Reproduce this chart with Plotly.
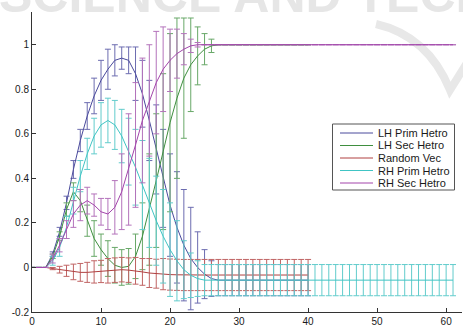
import plotly.graph_objects as go

# ---------------- data ----------------
x_short = list(range(0, 41))   # LH Prim, LH Sec, Random Vec : x = 0..40
x_long = list(range(0, 62))    # RH Prim, RH Sec : x = 0..61

series_names = ["LH Prim Hetro", "LH Sec Hetro", "Random Vec", "RH Prim Hetro", "RH Sec Hetro"]

lh_prim = [0, 0, 0, 0.06, 0.16, 0.29, 0.44, 0.57, 0.68, 0.77, 0.84, 0.89, 0.93, 0.94, 0.93,
           0.87, 0.78, 0.66, 0.53, 0.40, 0.28, 0.18, 0.10, 0.04, 0.0, -0.03, -0.05,
           -0.057, -0.057, -0.057, -0.057, -0.057, -0.057, -0.057, -0.057, -0.057, -0.057,
           -0.057, -0.057, -0.057, -0.057]
lh_prim_err = [0, 0, 0, 0.01, 0.02, 0.03, 0.04, 0.05, 0.06, 0.08, 0.09, 0.09, 0.07, 0.05, 0.06,
               0.12, 0.15, 0.18, 0.20, 0.22, 0.23, 0.25, 0.25, 0.23, 0.16, 0.11, 0.08,
               0.07, 0.07, 0.07, 0.07, 0.07, 0.07, 0.07, 0.07, 0.07, 0.07, 0.07, 0.07, 0.07, 0.07]

lh_sec = [0, 0, 0, 0.05, 0.14, 0.26, 0.34, 0.30, 0.21, 0.13, 0.08, 0.04, 0.01, 0.0, 0.005,
          0.05, 0.14, 0.26, 0.39, 0.52, 0.65, 0.76, 0.85, 0.91, 0.95, 0.98, 0.995,
          1.0, 1.0, 1.0, 1.0, 1.0, 1.0, 1.0, 1.0, 1.0, 1.0, 1.0, 1.0, 1.0, 1.0]
lh_sec_err = [0, 0, 0, 0.01, 0.02, 0.03, 0.04, 0.05, 0.07, 0.08, 0.07, 0.08, 0.08, 0.08, 0.08,
              0.10, 0.15, 0.25, 0.30, 0.35, 0.40, 0.36, 0.27, 0.21, 0.13, 0.07, 0.03,
              0, 0, 0, 0, 0, 0, 0, 0, 0, 0, 0, 0, 0, 0]

random_vec = [0, 0, 0, -0.005, -0.01, -0.015, -0.02, -0.022, -0.022, -0.02, -0.018, -0.015,
              -0.012, -0.01, -0.012, -0.015, -0.02, -0.025, -0.028, -0.03, -0.032, -0.033,
              -0.034, -0.034, -0.034, -0.034, -0.034, -0.034, -0.034, -0.034, -0.034, -0.034,
              -0.034, -0.034, -0.034, -0.034, -0.034, -0.034, -0.034, -0.034, -0.034]
random_vec_err = [0, 0, 0, 0.005, 0.015, 0.025, 0.035, 0.04, 0.045, 0.05, 0.05, 0.055, 0.055,
                  0.055, 0.055, 0.06, 0.06, 0.065, 0.065, 0.07, 0.07, 0.07, 0.07, 0.07, 0.07,
                  0.07, 0.07, 0.07, 0.07, 0.07, 0.07, 0.07, 0.07, 0.07, 0.07, 0.07, 0.07, 0.07,
                  0.07, 0.07, 0.07]

rh_prim = [0, 0, 0, 0.03, 0.09, 0.18, 0.30, 0.41, 0.51, 0.59, 0.64, 0.66, 0.64, 0.59, 0.52,
           0.45, 0.37, 0.29, 0.21, 0.14, 0.08, 0.03, -0.01, -0.035, -0.05,
           -0.057, -0.057, -0.057, -0.057, -0.057, -0.057, -0.057, -0.057, -0.057, -0.057,
           -0.057, -0.057, -0.057, -0.057, -0.057, -0.057, -0.057, -0.057, -0.057, -0.057,
           -0.057, -0.057, -0.057, -0.057, -0.057, -0.057, -0.057, -0.057, -0.057, -0.057,
           -0.057, -0.057, -0.057, -0.057, -0.057, -0.057, -0.057]
rh_prim_err = [0, 0, 0, 0.02, 0.04, 0.05, 0.06, 0.07, 0.07, 0.08, 0.10, 0.10, 0.11, 0.12, 0.15,
               0.17, 0.20, 0.20, 0.20, 0.21, 0.21, 0.18, 0.13, 0.10, 0.08,
               0.07, 0.07, 0.07, 0.07, 0.07, 0.07, 0.07, 0.07, 0.07, 0.07, 0.07, 0.07, 0.07,
               0.07, 0.07, 0.07, 0.07, 0.07, 0.07, 0.07, 0.07, 0.07, 0.07, 0.07, 0.07, 0.07,
               0.07, 0.07, 0.07, 0.07, 0.07, 0.07, 0.07, 0.07, 0.07, 0.07, 0.07]

rh_sec = [0, 0, 0, 0.04, 0.10, 0.17, 0.24, 0.28, 0.30, 0.28, 0.25, 0.24, 0.27, 0.34, 0.44,
          0.55, 0.66, 0.75, 0.83, 0.89, 0.93, 0.96, 0.98, 0.995, 1.0,
          1.0, 1.0, 1.0, 1.0, 1.0, 1.0, 1.0, 1.0, 1.0, 1.0, 1.0, 1.0, 1.0, 1.0, 1.0, 1.0,
          1.0, 1.0, 1.0, 1.0, 1.0, 1.0, 1.0, 1.0, 1.0, 1.0, 1.0, 1.0, 1.0, 1.0, 1.0, 1.0,
          1.0, 1.0, 1.0, 1.0, 1.0]
rh_sec_err = [0, 0, 0, 0.02, 0.03, 0.04, 0.06, 0.07, 0.06, 0.05, 0.06, 0.07, 0.12, 0.17, 0.25,
              0.28, 0.28, 0.25, 0.23, 0.19, 0.14, 0.11, 0.07, 0.03, 0.01,
              0, 0, 0, 0, 0, 0, 0, 0, 0, 0, 0, 0, 0, 0, 0, 0, 0, 0, 0, 0, 0, 0, 0, 0, 0, 0,
              0, 0, 0, 0, 0, 0, 0, 0, 0, 0, 0]

x_ticks = [0, 10, 20, 30, 40, 50, 60]
y_ticks = [-0.2, 0, 0.2, 0.4, 0.6, 0.8, 1]
y_tick_text = ["-0.2", "0", "0.2", "0.4", "0.6", "0.8", "1"]

# ---------------- styling ----------------
line_colors = ["#4a4a9c", "#3f8f3f", "#b04040", "#40c4c4", "#a345ab"]
err_colors = ["#6c6cb0", "#68a868", "#c06464", "#62cccc", "#b473bb"]

series = [
    (x_short, lh_prim, lh_prim_err),
    (x_short, lh_sec, lh_sec_err),
    (x_short, random_vec, random_vec_err),
    (x_long, rh_prim, rh_prim_err),
    (x_long, rh_sec, rh_sec_err),
]

fig = go.Figure()
for i, (xs, ys, es) in enumerate(series):
    fig.add_trace(go.Scatter(
        x=xs, y=ys, mode="lines", name=series_names[i],
        line=dict(color=line_colors[i], width=1),
        error_y=dict(type="data", array=es, visible=True,
                     color=err_colors[i], thickness=1, width=3),
        showlegend=False,
    ))

# plot area geometry (pixels)
L, R, T, B = 32, 462, 12, 312
W, H = 463, 327


def px(xp):
    return (xp - L) / (R - L)


def py(yp):
    return (B - yp) / (B - T)


shapes = []
annotations = []

# watermark (light gray text cut at top, as in the source image) and swoosh
annotations.append(dict(
    text="SCIENCE AND TECHNOLOGY", xref="paper", yref="paper",
    x=px(-3), y=py(25), xanchor="left", yanchor="bottom", showarrow=False,
    font=dict(family="Liberation Sans, Arial", size=50, color="#e6e6e6", weight="bold"),
))
shapes.append(dict(
    type="path", xref="paper", yref="paper", layer="below",
    path=f"M {px(376)},{py(24)} Q {px(428)},{py(36)} {px(450)},{py(90)} L {px(470)},{py(58)}",
    line=dict(color="#e8e8e8", width=8),
))

# custom legend (box, sample lines, labels)
box_l, box_r, box_t, box_b = 332.5, 454.5, 124, 190
shapes.append(dict(type="rect", xref="paper", yref="paper",
                   x0=px(box_l), x1=px(box_r), y0=py(box_b), y1=py(box_t),
                   line=dict(color="#555555", width=1), fillcolor="white"))
entry_y = [133, 145.5, 158, 170.5, 183]
for i, name in enumerate(series_names):
    shapes.append(dict(type="line", xref="paper", yref="paper",
                       x0=px(340), x1=px(373), y0=py(entry_y[i]), y1=py(entry_y[i]),
                       line=dict(color=line_colors[i], width=1)))
    annotations.append(dict(
        text=name, xref="paper", yref="paper", x=px(376), y=py(entry_y[i]),
        xanchor="left", yanchor="middle", showarrow=False,
        font=dict(family="Liberation Sans, Arial", size=11, color="#1a1a1a"),
    ))

axis_common = dict(
    showline=True, linecolor="#333333", linewidth=1, mirror=False,
    ticks="inside", ticklen=4, tickcolor="#333333", showgrid=False, zeroline=False,
    automargin=False,
    tickfont=dict(family="Liberation Sans, Arial", size=10, color="#1a1a1a"),
)

fig.update_layout(
    width=W, height=H,
    margin=dict(l=L, r=W - R, t=T, b=H - B, pad=0, autoexpand=False),
    paper_bgcolor="white", plot_bgcolor="white",
    xaxis=dict(range=[0, 62.3], tickvals=x_ticks, **axis_common),
    yaxis=dict(range=[-0.2, 1.147], tickvals=y_ticks, ticktext=y_tick_text, **axis_common),
    shapes=shapes, annotations=annotations, showlegend=False,
)

fig.write_html(
    "out.html",
    config={"displayModeBar": False, "staticPlot": True},
    post_script="document.body.style.margin='0';document.body.style.padding='0';"
                "document.documentElement.style.overflow='hidden';",
)
